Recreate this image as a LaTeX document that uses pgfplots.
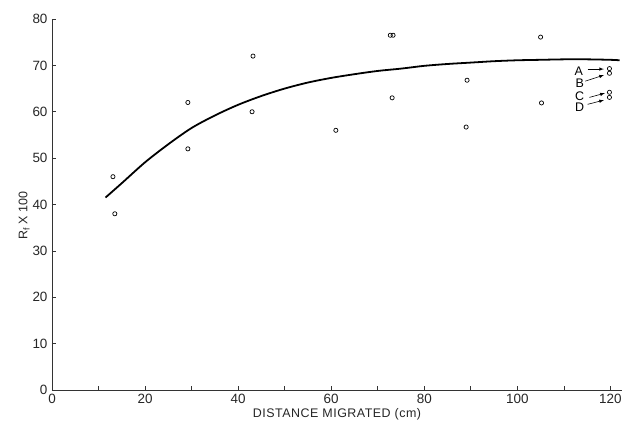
\documentclass[border=0pt]{standalone}
\usepackage{fontspec}
\setmainfont{Liberation Sans}
\newfontfamily\spaced[LetterSpace=4]{Liberation Sans}
\usepackage{pgfplots}
\pgfplotsset{compat=1.18}
\begin{document}
\begin{tikzpicture}[x=1bp,y=1bp]
\begin{axis}[
  at={(0,0)}, anchor=south west,
  scale only axis,
  width=570bp, height=371bp,
  xmin=0, xmax=122.5, ymin=0, ymax=80,
  axis x line=bottom, axis y line=left,
  axis line style={-, line width=0.9pt, color=black!80},
  xtick={0,10,...,120},
  xticklabels={0,,20,,40,,60,,80,,100,,120},
  ytick={0,10,...,80},
  major tick length=4bp,
  tick style={line width=0.7pt, color=black!80},
  tick align=inside,
  /pgf/number format/assume math mode=true,
  ticklabel style={font=\fontsize{13.5}{15}\selectfont, color=black!85},
  xticklabel style={yshift=-1bp},
  yticklabel style={xshift=-1bp},
  xlabel={\spaced\fontsize{12.5}{14}\selectfont DISTANCE MIGRATED (cm)},
  ylabel={\fontsize{12.5}{14}\selectfont R$_{\mathrm{f}}$ X 100},
  xlabel style={at={(axis description cs:0.5,0)}, anchor=center, yshift=-24bp, color=black!85},
  ylabel style={at={(axis description cs:-0.033,0.47)}, anchor=south, color=black!85},
  clip=false,
]
\addplot[smooth, line width=1.8pt, black] coordinates {
  (11.5,41.5) (15,44.6) (20,49.1) (25,53.0) (30,56.5) (35,59.2) (40,61.5)
  (45,63.4) (50,65.0) (55,66.3) (60,67.3) (65,68.1) (70,68.8) (75,69.3)
  (80,69.9) (85,70.3) (90,70.6) (95,70.9) (100,71.1) (105,71.2) (110,71.3)
  (115,71.3) (120,71.2) (122,71.1)
};
\addplot[only marks, mark=o, mark size=2.1pt, mark options={line width=0.7pt}, black] coordinates {
  (13.1,46) (13.5,38)
  (29.2,62) (29.2,52)
  (43.2,72) (43.0,60)
  (61,56)
  (72.7,76.5) (73.3,76.5) (73.1,63)
  (89.2,66.8) (89.0,56.7)
  (105,76.1) (105.2,61.9)
  (119.8,69.3) (119.8,68.3) (119.8,64.2) (119.8,63.1)
};
\begin{scope}[font=\fontsize{12.5}{14}\selectfont]
\node at (axis cs:113.2,68.8) {A};
\node at (axis cs:113.4,66.2) {B};
\node at (axis cs:113.4,63.4) {C};
\node at (axis cs:113.4,61.0) {D};
\end{scope}
\draw[-latex, line width=0.6pt] (axis cs:115.1,69.2) -- (axis cs:118.6,69.2);
\draw[-latex, line width=0.6pt] (axis cs:114.6,66.6) -- (axis cs:118.6,67.9);
\draw[-latex, line width=0.6pt] (axis cs:115.5,63.1) -- (axis cs:118.8,64.0);
\draw[-latex, line width=0.6pt] (axis cs:115.1,61.6) -- (axis cs:118.6,62.5);
\end{axis}
\pgfresetboundingbox
\path[use as bounding box] (-52,-42) rectangle (575,390);
\end{tikzpicture}
\end{document}
